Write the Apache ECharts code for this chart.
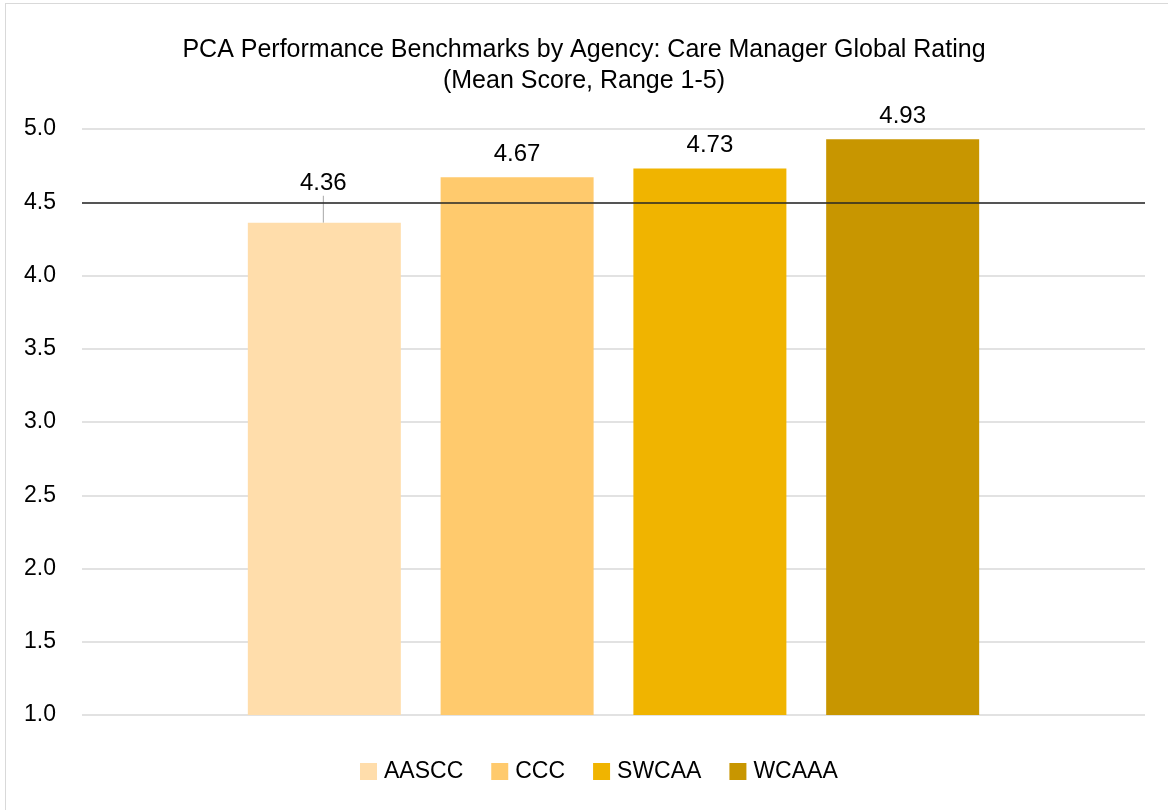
<!DOCTYPE html>
<html>
<head>
<meta charset="utf-8">
<script src="https://cdn.jsdelivr.net/npm/echarts@6/dist/echarts.min.js"></script>
<style>
  html, body { margin: 0; padding: 0; background: #fff; }
  #frame { position: absolute; left: 5px; top: 3px; width: 1200px; height: 850px; border: 1px solid #d9d9d9; }
  #main { position: absolute; left: 0; top: 0; width: 1168px; height: 810px; }
</style>
</head>
<body>
<div id="frame"></div>
<div id="main"></div>
<script>
// agencies and their mean scores
var agencies = ['AASCC', 'CCC', 'SWCAA', 'WCAAA'];
var scores = [4.36, 4.67, 4.73, 4.93];
var benchmark = 4.5;
var yTicks = [1.0, 1.5, 2.0, 2.5, 3.0, 3.5, 4.0, 4.5, 5.0];
var barColors = ['#FFDDAB', '#FFCA6D', '#F0B400', '#C89600'];

var font = 'Liberation Sans, sans-serif';
var myChart = echarts.init(document.getElementById('main'));

var series = agencies.map(function (name, i) {
    var s = {
        name: name,
        type: 'bar',
        barWidth: 153,
        barGap: '26%',
        data: [scores[i]],
        itemStyle: { color: barColors[i] },
        label: {
            show: true,
            position: 'top',
            distance: 11,
            fontFamily: font,
            fontSize: 24,
            color: '#000',
            formatter: function (p) { return p.value.toFixed(2); }
        }
    };
    if (i === 0) {
        // label pushed above the benchmark line, with a leader line
        s.labelLayout = { dy: -16, dx: -1 };
        s.labelLine = { show: true, lineStyle: { color: '#a6a6a6', width: 1 } };
        s.markLine = {
            silent: true,
            symbol: 'none',
            label: { show: false },
            lineStyle: { color: '#262626', width: 1.5, type: 'solid' },
            data: [{ yAxis: benchmark }]
        };
    }
    return s;
});

var option = {
    animation: false,
    title: {
        text: 'PCA Performance Benchmarks by Agency: Care Manager Global Rating\n(Mean Score, Range 1-5)',
        left: 'center',
        top: 30,
        textStyle: { fontFamily: font, fontSize: 25, fontWeight: 'normal', color: '#000', lineHeight: 31 }
    },
    legend: {
        data: agencies,
        bottom: 22,
        left: 355,
        itemWidth: 17,
        itemHeight: 17,
        itemGap: 28,
        icon: 'rect',
        textStyle: { fontFamily: font, fontSize: 23, color: '#000', padding: [0, 0, 0, 2] }
    },
    grid: { left: 82, right: 23, top: 129, bottom: 95 },
    xAxis: {
        type: 'category',
        data: [''],
        axisLine: { show: false },
        axisTick: { show: false },
        axisLabel: { show: false }
    },
    yAxis: {
        type: 'value',
        min: yTicks[0],
        max: yTicks[yTicks.length - 1],
        interval: 0.5,
        axisLine: { show: false },
        axisTick: { show: false },
        axisLabel: {
            margin: 26,
            fontFamily: font,
            fontSize: 23,
            color: '#000',
            formatter: function (v) { return v.toFixed(1); }
        },
        splitLine: { lineStyle: { color: '#d9d9d9', width: 1.5 } }
    },
    series: series
};

myChart.setOption(option);
</script>
</body>
</html>
